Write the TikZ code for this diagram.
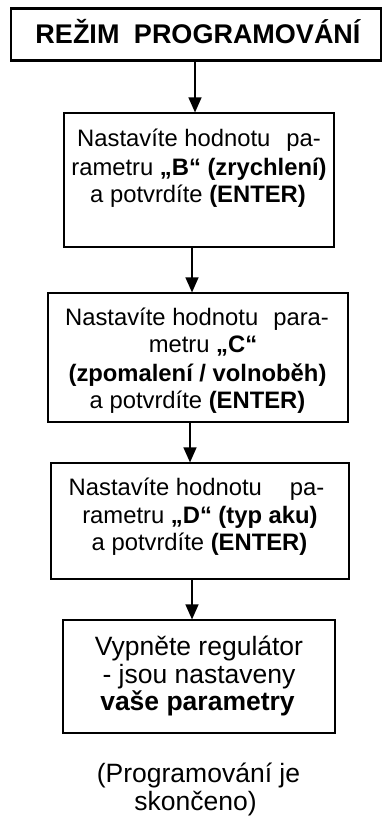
\documentclass[tikz,border=0pt]{standalone}
\usepackage{fontspec}
\setmainfont{Liberation Sans}
\usetikzlibrary{arrows.meta}
\begin{document}
\begin{tikzpicture}[x=1pt,y=-1pt,
  box/.style={draw, line width=1.2pt, inner sep=0pt},
  topbox/.style={draw, line width=2.6pt, inner sep=0pt},
  txt/.style={anchor=base, inner sep=0pt, font=\fontsize{23.8}{28}\selectfont},
  big/.style={anchor=base, inner sep=0pt, font=\fontsize{26.5}{30}\selectfont},
  arr/.style={line width=1.2pt, -{Triangle[length=15pt,width=13pt]}}]
\useasboundingbox (0,0) rectangle (383,816);
% boxes
\node[topbox, minimum width=370pt, minimum height=52pt] (top) at (196,34.5) {};
\node[box, minimum width=270pt, minimum height=134pt] (b2) at (199,180) {};
\node[box, minimum width=300pt, minimum height=129pt] (b3) at (198,357.5) {};
\node[box, minimum width=298pt, minimum height=116pt] (b4) at (200,521) {};
\node[box, minimum width=272pt, minimum height=113pt] (b5) at (199,676.5) {};
% texts
\node[big, font=\fontsize{27}{30}\selectfont] (t0) at (198,43.5) {\bfseries REŽIM\hspace{7pt} PROGRAMOVÁNÍ};
\node[txt] (t21) at (199,146) {Nastavíte hodnotu\hspace{16pt}pa-};
\node[txt] (t22) at (199,175) {rametru \textbf{„B“ (zrychlení)}};
\node[txt] (t23) at (198,202) {a potvrdíte \textbf{(ENTER)}};
\node[txt] (t31) at (197,325) {Nastavíte hodnotu\hspace{15pt}para-};
\node[txt] (t32) at (203,352) {metru \textbf{„C“}};
\node[txt] (t33) at (197.5,381.5) {\bfseries (zpomalení / volnoběh)};
\node[txt] (t34) at (197.5,408) {a potvrdíte \textbf{(ENTER)}};
\node[txt] (t41) at (196.5,495) {Nastavíte hodnotu\hspace{28pt}pa-};
\node[txt] (t42) at (200,523) {rametru \textbf{„D“ (typ aku)}};
\node[txt] (t43) at (199.5,550) {a potvrdíte \textbf{(ENTER)}};
\node[big] (t51) at (199,655) {Vypněte regulátor};
\node[big] (t52) at (199,683) {- jsou nastaveny};
\node[big] (t53) at (197.5,710) {\bfseries vaše parametry};
\node[big] (t61) at (198.5,782) {(Programování je};
\node[big] (t62) at (195.5,810) {skončeno)};
% connectors
\coordinate (x1) at (195,0);
\coordinate (x2) at (192,0);
\coordinate (x3) at (190,0);
\coordinate (x4) at (192,0);
\draw[arr] (top.south -| x1) -- (b2.north -| x1);
\draw[arr] (b2.south -| x2) -- (b3.north -| x2);
\draw[arr] (b3.south -| x3) -- (b4.north -| x3);
\draw[arr] (b4.south -| x4) -- (b5.north -| x4);
\end{tikzpicture}
\end{document}
